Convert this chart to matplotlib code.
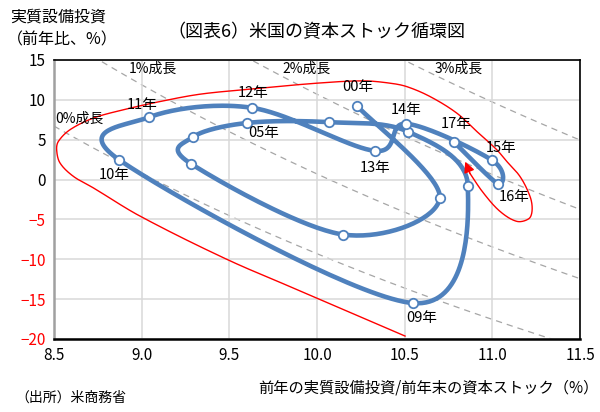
import numpy as np
import matplotlib
matplotlib.use("Agg")
import matplotlib.pyplot as plt

plt.rcParams["font.family"] = ["Noto Sans CJK JP", "DejaVu Sans"]

BLUE = "#4f81bd"; GRID = "#d9d9d9"; DASH = "#a6a6a6"

# investment / capital stock ratio (x, %) and real investment growth (y, %), 2000-2017
years = ["00", "01", "02", "03", "04", "05", "06", "07", "08", "09",
         "10", "11", "12", "13", "14", "15", "16", "17"]
ik_ratio = [10.23, 10.70, 10.15, 9.28, 9.29, 9.60, 10.07, 10.52, 10.86, 10.55,
            8.87, 9.04, 9.63, 10.33, 10.51, 11.00, 11.03, 10.78]
inv_growth = [9.2, -2.3, -6.9, 2.0, 5.3, 7.1, 7.2, 6.0, -0.75, -15.5,
              2.5, 7.8, 9.0, 3.6, 7.0, 2.4, -0.5, 4.75]

# years that carry a label, with label offset in points
label_offsets = {"00": (0, 14), "14": (0, 10), "17": (1.5, 13), "15": (6.5, 9),
                 "16": (12, -9.5), "13": (0, -12), "12": (0.7, 11), "11": (-4.7, 8.6),
                 "05": (12, -7.5), "10": (-3, -11), "09": (6, -11)}

# iso expected-growth curves: y = (g + delta) / x - 1
growth_rates = [0, 1, 2, 3]
depreciation = 9.07
growth_label_pos = [(8.505, 7.6), (9.065, 13.9), (9.938, 13.9), (10.807, 13.9)]

# freehand red cycle outline ending in an arrow
red_x = [10.502, 9.903, 9.485, 8.991, 8.724, 8.610, 8.534, 8.515, 8.525, 8.591,
         8.724, 8.895, 9.105, 9.333, 9.618, 9.999, 10.264, 10.417, 10.512, 10.645,
         10.797, 10.911, 11.025, 11.073, 11.158, 11.215, 11.227, 11.21, 11.141,
         11.044, 10.947, 10.873]
red_y = [-19.63, -13.96, -10.0, -4.59, -1.04, 0.41, 2.09, 3.75, 4.79, 6.25,
         7.71, 8.75, 9.79, 10.71, 11.34, 12.09, 12.38, 12.09, 11.66, 10.41,
         8.34, 6.04, 3.75, 2.5, 0.375, -2.125, -3.75, -4.875, -5.25,
         -4.0, -1.625, 0.75]
arrow_tip = (10.845, 2.25)


def smooth(ax, xs, ys, n=40, chord=False):
    # bezier smoothing through the points, done in display space
    P = ax.transData.transform(np.column_stack([xs, ys]))
    P = np.vstack([P[0], P, P[-1]])
    t = np.linspace(0, 1, n)[:, None]
    segs = []
    for i in range(1, len(P) - 2):
        p0, p1, p2, p3 = P[i - 1], P[i], P[i + 1], P[i + 2]
        if chord:
            d0 = np.hypot(*(p1 - p0)); d1 = np.hypot(*(p2 - p1)); d2 = np.hypot(*(p3 - p2))
            c1 = p1 + (p2 - p0) * d1 / (3 * max(d0 + d1, 1e-9))
            c2 = p2 - (p3 - p1) * d1 / (3 * max(d1 + d2, 1e-9))
        else:
            c1 = p1 + (p2 - p0) / 6
            c2 = p2 - (p3 - p1) / 6
        segs.append((1 - t) ** 3 * p1 + 3 * (1 - t) ** 2 * t * c1
                    + 3 * (1 - t) * t ** 2 * c2 + t ** 3 * p2)
    return ax.transData.inverted().transform(np.vstack(segs)).T


fig = plt.figure(figsize=(6.0, 4.12), dpi=100)
ax = fig.add_axes([0.09, 0.1772, 0.8767, 0.6772])
ax.set_xlim(8.5, 11.5)
ax.set_ylim(-20, 15)

xt = np.arange(8.5, 11.51, 0.5)
ax.set_xticks(xt)
ax.set_xticklabels([f"{v:.1f}" for v in xt], fontsize=11)
yt = np.arange(-20, 16, 5)
ax.set_yticks(yt)
ax.set_yticklabels([str(v).replace("-", "−") for v in yt], fontsize=11)
for lab, v in zip(ax.get_yticklabels(), yt):
    lab.set_color("red" if v < 0 else "black")
ax.tick_params(length=0, pad=6)
ax.grid(color=GRID, lw=1.1, zorder=0)
for s in ["top", "right"]:
    ax.spines[s].set_linewidth(1.2)
ax.spines["bottom"].set_linewidth(1.8)
ax.spines["left"].set_color("#a0a0a0")
ax.spines["left"].set_linewidth(1.8)

# growth curves
xx = np.linspace(8.5, 11.5, 300)
for g, (lx, ly) in zip(growth_rates, growth_label_pos):
    yy = ((g + depreciation) / xx - 1) * 100
    ax.plot(xx, yy, color=DASH, lw=0.9, ls=(0, (5, 4)), zorder=1)
    ax.text(lx, ly, f"{g}%成長", fontsize=10, va="center",
            ha="left" if g == 0 else "center", zorder=5)

# red outline and arrow
rx, ry = smooth(ax, red_x, red_y, chord=True)
ax.plot(rx, ry, color="red", lw=1.0, zorder=2)
ax.annotate("", xy=arrow_tip, xytext=(red_x[-1], red_y[-1]),
            arrowprops=dict(arrowstyle="-|>", color="red", lw=1.0, mutation_scale=16,
                            shrinkA=0, shrinkB=0),
            zorder=4)

# investment cycle path
cx, cy = smooth(ax, ik_ratio, inv_growth)
ax.plot(cx, cy, color=BLUE, lw=3.3, solid_capstyle="round", zorder=3)
ax.plot(ik_ratio, inv_growth, ls="none", marker="o", ms=6.8, mfc="white",
        mec=BLUE, mew=1.3, zorder=4)
for yr, x, y in zip(years, ik_ratio, inv_growth):
    if yr in label_offsets:
        ax.annotate(f"{yr}年", (x, y), xytext=label_offsets[yr], textcoords="offset points",
                    ha="center", va="center", fontsize=10.5, zorder=5)

fig.text(0.527, 0.922, "（図表6）米国の資本ストック循環図", ha="center", va="center", fontsize=13)
fig.text(0.017, 0.958, "実質設備投資", ha="left", va="center", fontsize=11.5)
fig.text(0.012, 0.902, "（前年比、%）", ha="left", va="center", fontsize=11.5)
fig.text(0.998, 0.058, "前年の実質設備投資/前年末の資本ストック（%）", ha="right", va="center",
         fontsize=11)
fig.text(0.025, 0.034, "（出所）米商務省", ha="left", va="center", fontsize=10)

fig.savefig("out.png", dpi=100)
